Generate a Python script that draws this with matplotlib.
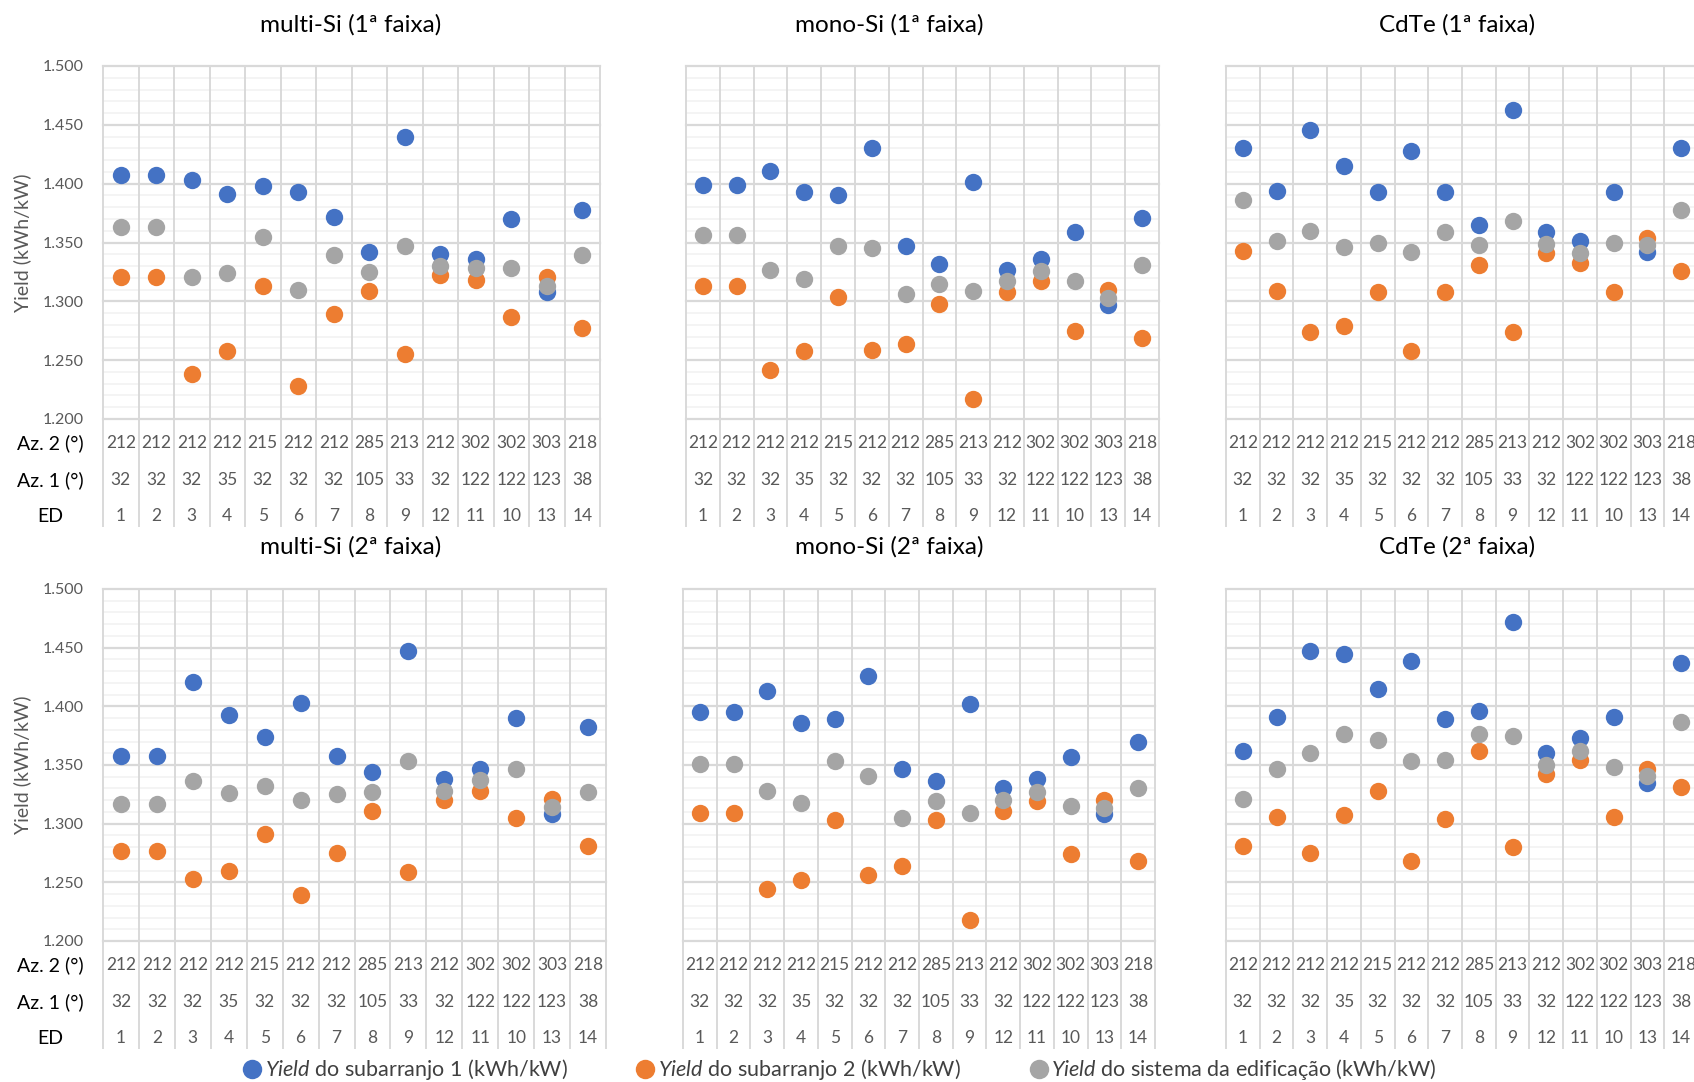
import matplotlib
matplotlib.use("Agg")
import matplotlib.pyplot as plt
from matplotlib.lines import Line2D
import matplotlib.transforms as mtransforms

plt.rcParams['font.family'] = ['Lato', 'DejaVu Sans']
plt.rcParams['mathtext.fontset'] = 'custom'
plt.rcParams['mathtext.it'] = 'Lato:italic'
plt.rcParams['mathtext.rm'] = 'Lato'

# ---------------- data ----------------
ed = ["1", "2", "3", "4", "5", "6", "7", "8", "9", "12", "11", "10", "13", "14"]
az1 = ["32", "32", "32", "35", "32", "32", "32", "105", "33", "32", "122", "122", "123", "38"]
az2 = ["212", "212", "212", "212", "215", "212", "212", "285", "213", "212", "302", "302", "303", "218"]

titles = ["multi-Si (1ª faixa)", "mono-Si (1ª faixa)", "CdTe (1ª faixa)",
          "multi-Si (2ª faixa)", "mono-Si (2ª faixa)", "CdTe (2ª faixa)"]

multi1_sub1 = [1407, 1407, 1403, 1391, 1398, 1393, 1372, 1342, 1440, 1340, 1336, 1370, 1308, 1378]
multi1_sub2 = [1321, 1321, 1238, 1258, 1313, 1228, 1289, 1309, 1255, 1322, 1318, 1287, 1321, 1277]
multi1_sys = [1363, 1363, 1321, 1324, 1355, 1310, 1339, 1325, 1347, 1330, 1328, 1328, 1313, 1339]

mono1_sub1 = [1399, 1399, 1411, 1393, 1390, 1430, 1347, 1332, 1401, 1327, 1336, 1359, 1297, 1371]
mono1_sub2 = [1313, 1313, 1242, 1258, 1304, 1259, 1264, 1298, 1217, 1308, 1317, 1275, 1310, 1269]
mono1_sys = [1356, 1356, 1327, 1319, 1347, 1345, 1306, 1315, 1309, 1317, 1326, 1317, 1303, 1331]

cdte1_sub1 = [1430, 1394, 1446, 1415, 1393, 1428, 1393, 1365, 1463, 1359, 1351, 1393, 1342, 1430]
cdte1_sub2 = [1343, 1309, 1274, 1279, 1308, 1258, 1308, 1331, 1274, 1341, 1333, 1308, 1354, 1326]
cdte1_sys = [1386, 1351, 1360, 1346, 1350, 1342, 1359, 1348, 1368, 1349, 1341, 1350, 1348, 1378]

multi2_sub1 = [1358, 1358, 1421, 1393, 1374, 1403, 1358, 1344, 1447, 1338, 1347, 1390, 1308, 1382]
multi2_sub2 = [1277, 1277, 1253, 1260, 1291, 1239, 1275, 1311, 1259, 1320, 1328, 1305, 1321, 1281]
multi2_sys = [1317, 1317, 1336, 1326, 1332, 1320, 1325, 1327, 1353, 1328, 1337, 1347, 1314, 1327]

mono2_sub1 = [1395, 1395, 1413, 1386, 1389, 1426, 1347, 1336, 1402, 1330, 1338, 1357, 1308, 1370]
mono2_sub2 = [1309, 1309, 1244, 1252, 1303, 1256, 1264, 1303, 1218, 1311, 1319, 1274, 1320, 1268]
mono2_sys = [1351, 1351, 1328, 1318, 1353, 1341, 1305, 1319, 1309, 1320, 1327, 1315, 1313, 1330]

cdte2_sub1 = [1362, 1391, 1447, 1445, 1415, 1439, 1389, 1396, 1472, 1360, 1373, 1391, 1335, 1437]
cdte2_sub2 = [1281, 1306, 1275, 1307, 1328, 1268, 1304, 1362, 1280, 1342, 1354, 1306, 1347, 1331]
cdte2_sys = [1321, 1347, 1360, 1376, 1371, 1353, 1354, 1376, 1375, 1350, 1362, 1348, 1341, 1387]

series_labels = [r"$\it{Yield}$ do subarranjo 1 (kWh/kW)",
                 r"$\it{Yield}$ do subarranjo 2 (kWh/kW)",
                 r"$\it{Yield}$ do sistema da edificação (kWh/kW)"]
colors = ["#4472C4", "#ED7D31", "#A5A5A5"]

panels = [
    (multi1_sub1, multi1_sub2, multi1_sys),
    (mono1_sub1, mono1_sub2, mono1_sys),
    (cdte1_sub1, cdte1_sub2, cdte1_sys),
    (multi2_sub1, multi2_sub2, multi2_sys),
    (mono2_sub1, mono2_sub2, mono2_sys),
    (cdte2_sub1, cdte2_sub2, cdte2_sys),
]

# ---------------- layout (pixels) ----------------
W, H = 1694, 1082
rects = [(103, 66, 600, 419), (686, 66, 1159, 419), (1226, 66, 1698, 419),
         (103, 589, 606, 941), (683, 589, 1155, 941), (1226, 589, 1698, 941)]
title_pos = [(351, 25), (889, 25), (1457, 25), (351, 547), (889, 547), (1457, 547)]

fig = plt.figure(figsize=(W / 100, H / 100), dpi=100)
fig.patch.set_facecolor("white")

major_c = "#D9D9D9"
minor_c = "#F2F2F2"
txt_c = "#595959"

def fmt(v):
    return f"{v/1000:.3f}"

for i, (data, (l, t, r, b)) in enumerate(zip(panels, rects)):
    ax = fig.add_axes([l / W, 1 - b / H, (r - l) / W, (b - t) / H])
    hpx = b - t
    ax.set_xlim(-0.5, 13.5)
    ax.set_ylim(1200, 1500)
    for s in ax.spines.values():
        s.set_visible(False)
    # minor gridlines
    for y in range(1200, 1501, 10):
        if y % 50 != 0:
            ax.axhline(y, color=minor_c, lw=1.2, zorder=0)
    for y in range(1200, 1501, 50):
        ax.axhline(y, color=major_c, lw=1.6, zorder=1, clip_on=False)
    # vertical separators extending into category table
    trans = mtransforms.blended_transform_factory(ax.transData, ax.transAxes)
    bottom_frac = -107 / hpx
    for k in range(15):
        ax.plot([k - 0.5, k - 0.5], [1, bottom_frac], color=major_c, lw=1.4,
                transform=trans, clip_on=False, zorder=1)
    x = list(range(len(ed)))
    for vals, c in zip(data, colors):
        ax.plot(x, vals, 'o', color=c, markersize=12.5, markeredgewidth=0, zorder=3)
    # category table
    for k in range(len(ed)):
        for row, off in ((az2, 24), (az1, 61), (ed, 97)):
            ax.text(k, -off / hpx, row[k], transform=trans, ha="center", va="center",
                    fontsize=12.5, color=txt_c, clip_on=False)
    ax.set_xticks([])
    ax.set_yticks(range(1200, 1501, 50))
    ax.tick_params(axis="y", length=0, pad=14, labelsize=11.5, labelcolor=txt_c)
    if i in (0, 3):
        ax.set_yticklabels([fmt(v) for v in range(1200, 1501, 50)])
        fig.text(22 / W, 1 - (t + b) / 2 / H, "Yield (kWh/kW)", rotation=90,
                 ha="center", va="center", fontsize=14, color=txt_c)
        for lab, off in (("Az. 2 (°)", 24), ("Az. 1 (°)", 61), ("ED", 97)):
            fig.text(50 / W, 1 - (b + off) / H, lab, ha="center", va="center",
                     fontsize=14, color="black")
    else:
        ax.set_yticklabels([])
    tx, ty = title_pos[i]
    fig.text(tx / W, 1 - ty / H, titles[i], ha="center", va="center",
             fontsize=17.5, color="black")

handles = [Line2D([], [], marker='o', linestyle='none', color=c, markersize=14,
                  markeredgewidth=0) for c in colors]
fig.legend(handles, series_labels, loc="center", bbox_to_anchor=(839 / W, 1 - 1070 / H),
           ncol=3, frameon=False, fontsize=15.5, handletextpad=0.1, columnspacing=3.1,
           labelcolor="#404040", handlelength=1.0)

fig.savefig("out.png", dpi=100, facecolor="white")
